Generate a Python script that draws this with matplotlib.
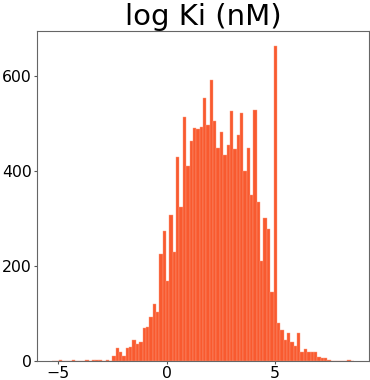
import numpy as np
import matplotlib
matplotlib.use("Agg")
import matplotlib.pyplot as plt

# histogram of log Ki (nM), 90 bins
bin_start = -5.3
bin_stop = 8.65
counts = [
    0, 0, 3, 0, 0, 0, 3, 0, 0, 1,
    3, 1, 2, 2, 2, 1, 3, 1, 10, 28,
    18, 11, 27, 30, 44, 36, 41, 69, 71, 92,
    121, 104, 225, 273, 169, 307, 230, 430, 325, 514,
    410, 464, 492, 490, 493, 555, 497, 592, 506, 449,
    483, 435, 456, 526, 446, 476, 523, 400, 448, 349,
    530, 335, 210, 302, 279, 146, 663, 80, 65, 44,
    58, 39, 32, 59, 20, 25, 19, 19, 19, 9,
    6, 6, 2, 1, 1, 0, 1, 1, 3, 1,
]
xticks = [-5, 0, 5]
yticks = [0, 200, 400, 600]

edges = np.linspace(bin_start, bin_stop, len(counts) + 1)

fig = plt.figure(figsize=(3.7, 3.8), dpi=100)
ax = fig.add_axes([36.7 / 370, 19 / 380, 332.6 / 370, 330.3 / 380])

ax.bar(edges[:-1], counts, width=np.diff(edges), align="edge",
       color="#F95A2F", edgecolor="#FC9A7E", linewidth=0.3)

ax.set_xticks(xticks)
ax.set_yticks(yticks)
ax.tick_params(labelsize=11.3, color="#555555", length=2.3, pad=1.3)
for s in ax.spines.values():
    s.set_color("#666666")

ax.set_title("log Ki (nM)", fontsize=21, pad=3)

fig.savefig("out.png", dpi=100)
